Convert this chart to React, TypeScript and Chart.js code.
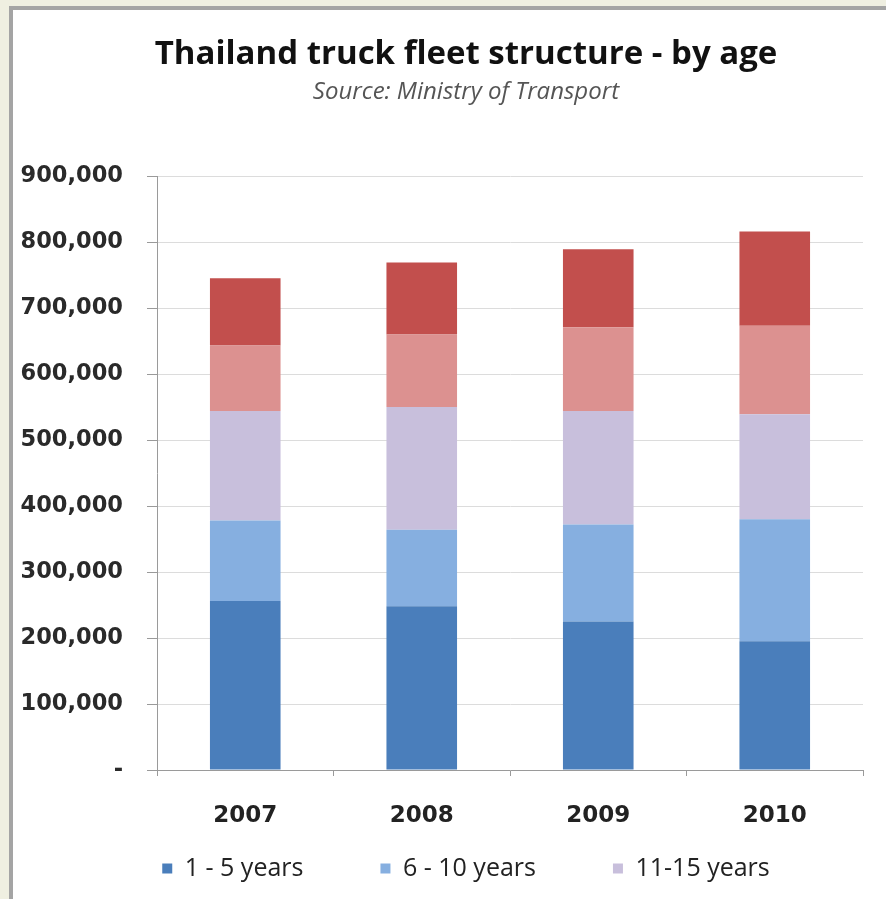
import React, { useEffect, useRef } from "react";
import { Chart, registerables } from "chart.js";

Chart.register(...registerables);

const categories = ["2007", "2008", "2009", "2010"];
const seriesNames = ["1 - 5 years", "6 - 10 years", "11-15 years", "16-20 years", "> 20 years"];
const years1to5 = [256000, 248000, 225000, 195000];
const years6to10 = [122000, 116000, 147000, 185000];
const years11to15 = [166000, 186000, 172000, 159000];
const years16to20 = [99000, 110000, 127000, 134000];
const yearsOver20 = [102000, 109000, 118000, 143000];
const seriesColors = ["#4a7ebb", "#86afe0", "#c8bfdc", "#dc9190", "#c24f4d"];
const yTicks = [0, 100000, 200000, 300000, 400000, 500000, 600000, 700000, 800000, 900000];
const titleText = "Thailand truck fleet structure - by age";
const subtitleText = "Source: Ministry of Transport";
const legendShown = 3;

export default function App() {
  const ref = useRef<HTMLCanvasElement | null>(null);

  useEffect(() => {
    document.body.style.margin = "0";
    const values = [years1to5, years6to10, years11to15, years16to20, yearsOver20];
    const chart = new Chart(ref.current as HTMLCanvasElement, {
      type: "bar",
      data: {
        labels: categories,
        datasets: values.map((v, i) => ({
          label: seriesNames[i],
          data: v,
          backgroundColor: seriesColors[i],
          borderWidth: 0,
          barPercentage: 0.4,
          categoryPercentage: 1,
          yAxisID: "y",
        })),
      },
      options: {
        responsive: false,
        animation: false,
        devicePixelRatio: 1,
        layout: { padding: { left: 10, right: 0, top: 0, bottom: 8 } },
        plugins: {
          title: {
            display: true,
            text: titleText,
            color: "#111111",
            font: { family: "'Open Sans'", size: 33, weight: "bold" },
            padding: { top: 35, bottom: 0 },
          },
          subtitle: {
            display: true,
            text: subtitleText,
            color: "#555555",
            font: { family: "'Open Sans'", size: 24, style: "italic" },
            padding: { top: 3, bottom: 69.6 },
          },
          legend: {
            position: "bottom",
            labels: {
              color: "#222222",
              font: { family: "'Open Sans'", size: 25 },
              boxWidth: 10,
              boxHeight: 10,
              padding: 77,
              filter: (item: any) => item.datasetIndex < legendShown,
            },
          },
          tooltip: { enabled: false },
        },
        scales: {
          x: {
            stacked: true,
            grid: {
              display: true,
              drawOnChartArea: false,
              offset: true,
              tickLength: 6,
              color: "#9a9a9a",
            },
            border: { color: "#9a9a9a", width: 1 },
            ticks: {
              color: "#222222",
              mirror: true,
              padding: -60,
              font: { family: "'DejaVu Sans'", size: 23, weight: "bold" },
            },
            afterFit: (s: any) => {
              s.height = 9;
            },
          },
          y: {
            stacked: true,
            min: 0,
            max: 900000,
            afterBuildTicks: (s: any) => {
              s.ticks = yTicks.map((v) => ({ value: v }));
            },
            grid: {
              color: "#dcdcdc",
              tickLength: 10,
              tickColor: "#9a9a9a",
            },
            border: { color: "#9a9a9a", width: 1 },
            ticks: {
              color: "#2a2a2a",
              padding: 24,
              font: { family: "'DejaVu Sans'", size: 22.5, weight: "bold" },
              callback: (v: any) => (Number(v) === 0 ? "-" : Number(v).toLocaleString("en-US")),
            },
            afterFit: (s: any) => {
              s.width = 147;
            },
          },
          yR: {
            position: "right",
            display: true,
            grid: { display: false, drawTicks: false },
            border: { display: false },
            ticks: { display: false },
            afterFit: (s: any) => {
              s.width = 59;
            },
          },
        },
      },
    } as any);
    return () => chart.destroy();
  }, []);

  return (
    <div style={{ position: "absolute", left: 0, top: 0, width: 886, height: 899, overflow: "hidden", background: "#efefe1" }}>
      <div
        style={{
          position: "absolute",
          left: 9,
          top: 6,
          width: 920,
          height: 900,
          background: "#ffffff",
          borderLeft: "4px solid #a4a4a4",
          borderTop: "4px solid #a4a4a4",
        }}
      />
      <canvas ref={ref} width={922} height={899} style={{ position: "absolute", left: 0, top: 0 }} />
    </div>
  );
}
